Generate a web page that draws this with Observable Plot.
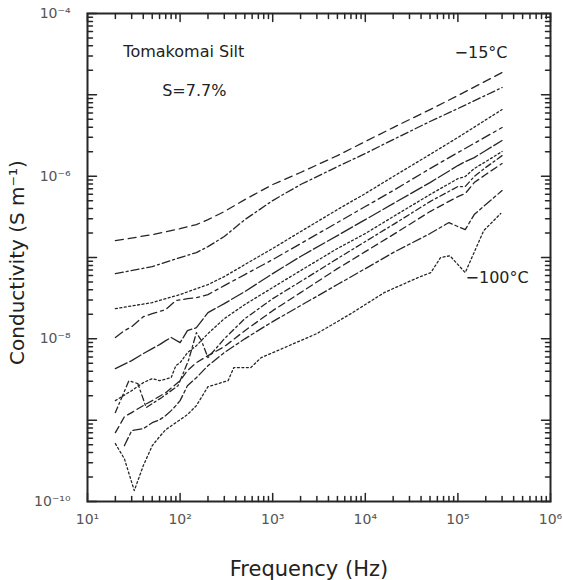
<!DOCTYPE html>
<html><head><meta charset="utf-8">
<script src="https://cdn.jsdelivr.net/npm/d3@7"></script>
<script src="https://cdn.jsdelivr.net/npm/@observablehq/plot@0.6"></script>
<style>
html,body{margin:0;padding:0;background:#fff;}
#chart svg{display:block;}
</style></head><body><div id="chart"></div>
<script>
// Conductivity (S/m) vs frequency (Hz), Tomakomai Silt, S = 7.7%
// s1 = -15 °C (top) ... s10 = -100 °C (bottom)
const s1 = [[20,1.61e-7],[50,1.91e-7],[100,2.26e-7],[150,2.54e-7],[200,2.92e-7],[300,3.67e-7],[500,5.15e-7],[1000,7.89e-7],[2000,1.11e-6],[5000,1.79e-6],[1e4,2.67e-6],[2e4,3.96e-6],[5e4,6.59e-6],[1e5,9.80e-6],[3e5,1.88e-5]];
const s2 = [[20,6.34e-8],[50,7.73e-8],[100,9.98e-8],[150,1.15e-7],[200,1.36e-7],[300,1.81e-7],[500,2.92e-7],[1000,5.01e-7],[2000,7.89e-7],[5000,1.31e-6],[1e4,1.90e-6],[2e4,2.82e-6],[5e4,4.70e-6],[1e5,6.78e-6],[3e5,1.23e-5]];
const s3 = [[20,2.35e-8],[50,2.79e-8],[100,3.50e-8],[200,4.65e-8],[300,5.82e-8],[500,8.18e-8],[1000,1.29e-7],[2000,2.08e-7],[5000,3.88e-7],[1e4,6.11e-7],[2e4,9.89e-7],[5e4,1.85e-6],[1e5,2.99e-6],[3e5,6.59e-6]];
const s4 = [[20,1.04e-8],[25,1.26e-8],[30,1.41e-8],[40,1.87e-8],[50,2.04e-8],[70,2.29e-8],[90,2.95e-8],[120,3.12e-8],[150,3.21e-8],[200,3.50e-8],[300,4.51e-8],[500,6.17e-8],[1000,9.42e-8],[2000,1.48e-7],[5000,2.69e-7],[1e4,4.23e-7],[2e4,6.65e-7],[5e4,1.24e-6],[1e5,1.95e-6],[3e5,3.96e-6]];
const s5 = [[20,4.30e-9],[30,5.40e-9],[40,6.58e-9],[50,7.57e-9],[60,8.49e-9],[70,9.50e-9],[80,1.04e-8],[100,8.97e-9],[120,1.26e-8],[150,1.37e-8],[200,2.10e-8],[300,2.71e-8],[500,3.81e-8],[1000,6.34e-8],[2000,1.03e-7],[5000,1.86e-7],[1e4,2.92e-7],[2e4,4.60e-7],[5e4,8.34e-7],[1e5,1.35e-6],[1.2e5,1.51e-6],[1.5e5,1.69e-6],[2e5,2.07e-6],[3e5,2.74e-6]];
const s6 = [[20,1.74e-9],[30,2.31e-9],[40,2.89e-9],[50,3.24e-9],[60,3.06e-9],[80,3.33e-9],[90,4.68e-9],[100,5.09e-9],[120,6.76e-9],[150,8.24e-9],[200,1.16e-8],[300,1.77e-8],[500,2.64e-8],[1000,4.27e-8],[2000,6.90e-8],[5000,1.29e-7],[1e4,1.97e-7],[2e4,3.18e-7],[5e4,5.94e-7],[1e5,9.33e-7],[1.2e5,9.89e-7],[1.5e5,1.24e-6],[2e5,1.51e-6],[3e5,2.01e-6]];
const s7 = [[20,1.24e-9],[28,3.06e-9],[35,2.81e-9],[43,1.43e-9],[63,1.89e-9],[95,2.65e-9],[123,5.40e-9],[150,1.19e-8],[170,9.50e-9],[200,5.87e-9],[300,1.00e-8],[500,1.77e-8],[1000,3.12e-8],[2000,5.06e-8],[5000,9.68e-8],[1e4,1.57e-7],[2e4,2.54e-7],[5e4,4.87e-7],[1e5,7.45e-7],[1.2e5,7.45e-7],[1.5e5,9.89e-7],[2e5,1.28e-6],[3e5,1.79e-6]];
const s8 = [[20,7.02e-10],[25,1.10e-9],[30,1.24e-9],[40,1.51e-9],[50,1.74e-9],[70,2.18e-9],[100,3.06e-9],[120,4.06e-9],[150,5.09e-9],[200,6.21e-9],[300,8.02e-9],[500,1.26e-8],[1000,2.22e-8],[2000,3.70e-8],[5000,7.29e-8],[1e4,1.18e-7],[2e4,1.91e-7],[5e4,3.67e-7],[1e5,5.61e-7],[1.2e5,6.11e-7],[1.5e5,8.34e-7],[2e5,1.05e-6],[3e5,1.43e-6]];
const s9 = [[25,4.85e-10],[30,7.43e-10],[40,7.85e-10],[50,9.31e-10],[60,1.01e-9],[70,1.14e-9],[80,1.31e-9],[90,1.51e-9],[100,1.74e-9],[120,2.65e-9],[150,3.33e-9],[200,4.68e-9],[300,6.76e-9],[500,1.00e-8],[1000,1.63e-8],[2000,2.56e-8],[5000,4.65e-8],[1e4,7.29e-8],[2e4,1.15e-7],[5e4,1.97e-7],[8e4,2.69e-7],[1e5,2.40e-7],[1.2e5,2.20e-7],[1.5e5,3.37e-7],[2e5,4.48e-7],[3e5,6.65e-7]];
const s10 = [[20,5.14e-10],[25,3.36e-10],[32,1.36e-10],[40,2.75e-10],[50,4.85e-10],[60,6.27e-10],[70,7.64e-10],[90,9.31e-10],[120,1.17e-9],[150,1.51e-9],[200,2.58e-9],[330,3.06e-9],[380,4.43e-9],[580,4.43e-9],[750,5.87e-9],[1500,8.24e-9],[3000,1.16e-8],[7000,2.04e-8],[16000,3.70e-8],[37000,5.66e-8],[51000,6.52e-8],[65000,9.98e-8],[82000,1.05e-7],[120000,6.52e-8],[190000,2.14e-7],[290000,3.47e-7]];

const xTickValues = [1e1, 1e2, 1e3, 1e4, 1e5, 1e6];
const xTickLabels = ["10¹", "10²", "10³", "10⁴", "10⁵", "10⁶"];
const yDecades = [1e-10, 1e-9, 1e-8, 1e-7, 1e-6, 1e-5, 1e-4];
const yTickValues = [1e-10, 1e-8, 1e-6, 1e-4];
const yTickLabels = ["10⁻¹⁰", "10⁻⁸", "10⁻⁶", "10⁻⁴"];
const minorSteps = [2, 3, 4, 5, 6, 7, 8, 9];
const notes = [
  {text: "Tomakomai Silt", f: 24.4, s: 3.41e-5},
  {text: "S=7.7%", f: 64, s: 1.13e-5},
  {text: "−15°C", f: 9.2e4, s: 3.31e-5},
  {text: "−100°C", f: 1.21e5, s: 5.66e-8}
];

// styles (kept apart from data)
const series = [s1, s2, s3, s4, s5, s6, s7, s8, s9, s10];
const dashes = ["8,5", "8,3,2,3", "2,2.5", "9,4,3,4", "13,3", "2,2.5", "6,3,2,3", "7,4", "9,3,3,3", "2,2.5"];

const W = 563, H = 580, mL = 87, mR = 13, mT = 13, mB = 79;
const ink = "#262626";

const xMin = xTickValues.slice(0, -1).flatMap(d => minorSteps.map(k => k * d));
const yMin = yDecades.slice(0, -1).flatMap(d => minorSteps.map(k => k * d));

// inward tick shapes
const up = {draw(c, l) { c.moveTo(0, 0); c.lineTo(0, -l); }};
const down = {draw(c, l) { c.moveTo(0, 0); c.lineTo(0, l); }};
const right = {draw(c, l) { c.moveTo(0, 0); c.lineTo(l, 0); }};
const left = {draw(c, l) { c.moveTo(0, 0); c.lineTo(-l, 0); }};
const tk = {stroke: ink, strokeWidth: 1.5, anchor: "start"};

const marks = [];
series.forEach((pts, i) => {
  marks.push(Plot.line(pts, {x: d => d[0], y: d => d[1], stroke: ink, strokeWidth: 1.3, strokeDasharray: dashes[i]}));
});
marks.push(
  Plot.vector(xMin, {x: d => d, frameAnchor: "bottom", length: 5, shape: up, ...tk}),
  Plot.vector(xTickValues, {x: d => d, frameAnchor: "bottom", length: 8, shape: up, ...tk}),
  Plot.vector(xMin, {x: d => d, frameAnchor: "top", length: 5, shape: down, ...tk}),
  Plot.vector(xTickValues, {x: d => d, frameAnchor: "top", length: 8, shape: down, ...tk}),
  Plot.vector(yMin, {y: d => d, frameAnchor: "left", length: 5, shape: right, ...tk}),
  Plot.vector(yDecades, {y: d => d, frameAnchor: "left", length: 9, shape: right, ...tk}),
  Plot.vector(yMin, {y: d => d, frameAnchor: "right", length: 5, shape: left, ...tk}),
  Plot.vector(yDecades, {y: d => d, frameAnchor: "right", length: 9, shape: left, ...tk}),
  Plot.frame({stroke: ink, strokeWidth: 2}),
  Plot.axisX(xTickValues, {tickSize: 0, tickPadding: 13, fontSize: 14, fill: "#555",
    tickFormat: d => xTickLabels[xTickValues.indexOf(d)], label: null}),
  Plot.axisY(yTickValues, {tickSize: 0, tickPadding: 17, fontSize: 14, fill: "#555",
    tickFormat: d => yTickLabels[yTickValues.indexOf(d)], label: null}),
  Plot.text(["Frequency (Hz)"], {frameAnchor: "bottom", dy: 68, dx: -10, lineAnchor: "middle", fontSize: 21, fill: "#222"}),
  Plot.text(["Conductivity (S m⁻¹)"], {frameAnchor: "left", dx: -70, dy: 5, rotate: -90, textAnchor: "middle", lineAnchor: "middle", fontSize: 20, fill: "#222"}),
  Plot.text(notes, {x: "f", y: "s", text: "text", textAnchor: "start", fontSize: 16, fill: "#222"})
);

const chart = Plot.plot({
  width: W, height: H,
  marginLeft: mL, marginRight: mR, marginTop: mT, marginBottom: mB,
  x: {type: "log", domain: [10, 1e6]},
  y: {type: "log", domain: [1e-10, 1e-4]},
  style: {fontFamily: "DejaVu Sans", background: "#fff", overflow: "visible"},
  marks
});
document.getElementById("chart").appendChild(chart);
</script></body></html>
